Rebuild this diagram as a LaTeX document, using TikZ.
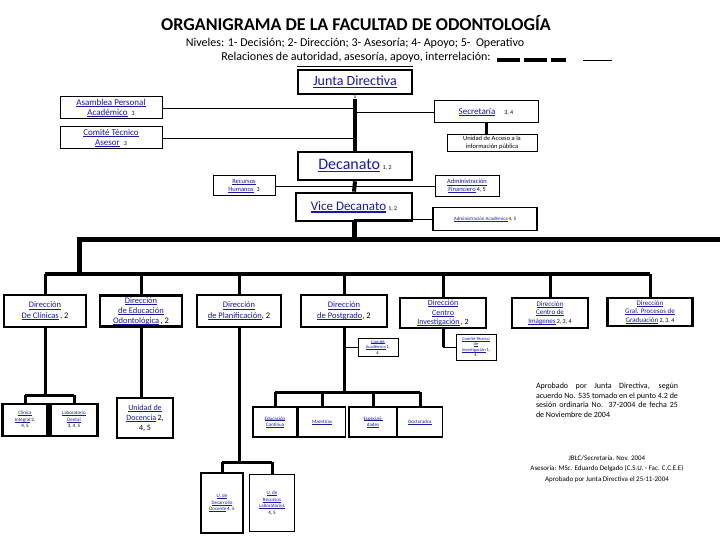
\documentclass[tikz,border=0pt]{standalone}
\usepackage{fontspec}
\setmainfont{Carlito}
\usepackage{tikz}

\definecolor{linkblue}{RGB}{24,24,165}
\newcommand{\lk}[1]{\textcolor{linkblue}{\setbox0\hbox{#1}\rlap{\rule[-0.16em]{\wd0}{0.08em}}\box0}}
\newcommand{\nm}[1]{{\fontsize{6}{7}\selectfont #1}}
\newcommand{\fs}[2]{\fontsize{#1}{#2}\selectfont}

\tikzset{
  box/.style={draw, fill=white, line width=1pt, align=center, inner sep=1pt},
  thickbox/.style={box, line width=2.7pt},
  midbox/.style={box, line width=1.8pt},
  mando/.style={line width=4pt},
  rama/.style={line width=3pt},
  apoyo/.style={line width=0.9pt},
}

\begin{document}
\begin{tikzpicture}[x=1pt,y=-1pt]
\useasboundingbox (0,0) rectangle (720,540);

% encabezado
\node[font=\fs{18}{21}\bfseries] (titulo) at (356,23) {ORGANIGRAMA DE LA FACULTAD DE ODONTOLOGÍA};
\node[font=\fs{12}{14}] (niveles) at (355,43) {Niveles: 1- Decisión; 2- Dirección; 3- Asesoría; 4- Apoyo; 5-\ \ Operativo};
\node[font=\fs{12}{14}] (relaciones) at (356,57) {Relaciones de autoridad, asesoría, apoyo, interrelación:};
\draw[line width=4pt, dash pattern=on 23pt off 4pt] (497,60) -- (566,60);
\draw[apoyo] (583,60) -- (612,60);
\draw[apoyo] (297,66) -- (413,66);

% nivel de decision
\node[thickbox, minimum width=114pt, minimum height=24pt, font=\fs{14}{16}] (junta) at (355,82) {\lk{Junta Directiva}};
\node[box, minimum width=102pt, minimum height=22pt, font=\fs{9}{10.5}] (asamblea) at (111,108) {\lk{Asamblea Personal}\\\lk{Académico}\ \ \nm{3}};
\node[box, minimum width=102pt, minimum height=22pt, font=\fs{9}{10.5}] (comite) at (111,138) {\lk{Comité Técnico}\\\lk{Asesor}\ \ \nm{3}};
\node[box, minimum width=104pt, minimum height=22pt, font=\fs{9}{10.5}] (secretaria) at (486,112) {\lk{Secretaría}\quad\nm{3, 4}};
\node[box, minimum width=90pt, minimum height=17pt, font=\fs{6.5}{7.5}] (acceso) at (492,143) {Unidad de Acceso a la\\información pública};
\node[thickbox, minimum width=114pt, minimum height=28pt, font=\fs{16}{18}] (decanato) at (355,166) {\lk{Decanato}\,\nm{1, 2}};
\node[box, minimum width=62pt, minimum height=20pt, font=\fs{6.5}{7.5}] (rrhh) at (244,186) {\lk{Recursos}\\\lk{Humanos}\ \ \nm{3}};
\node[box, minimum width=64pt, minimum height=21pt, font=\fs{6.5}{7.5}] (finanzas) at (467,186) {\lk{Administración}\\\lk{Financiero}\,\nm{4, 5}};
\node[thickbox, minimum width=116pt, minimum height=28pt, font=\fs{13}{15}] (vice) at (354,207) {\lk{Vice Decanato}\,\nm{1, 2}};
\node[midbox, minimum width=104pt, minimum height=23pt, font=\fs{5}{6}] (academica) at (485,219) {\lk{Administración Académica}\,4, 5};

\draw[mando] (junta.south) -- (decanato.north);
\draw[mando] (decanato.south) -- (vice.north);
\node[font=\fs{6}{7}, fill=white, inner sep=0.3pt] (juntanum) at (355,97) {1};
\draw[apoyo] (asamblea.east) -- (asamblea.east -| junta.south);
\draw[apoyo] (comite.east) -- (comite.east -| junta.south);
\draw[apoyo] (secretaria.west) -- (secretaria.west -| junta.south);
\draw[rama] (secretaria.south) -- (secretaria.south |- acceso.north);
\draw[apoyo] (rrhh.east) -- (rrhh.east -| decanato.south);
\draw[apoyo] (finanzas.west) -- (finanzas.west -| decanato.south);
\draw[apoyo] (academica.west) -- (academica.west -| vice.south);

% direcciones
\node[thickbox, minimum width=82pt, minimum height=32pt, font=\fs{8.5}{10.5}] (clinicas) at (45,311) {\lk{Dirección}\\\lk{De Clínicas}\,, 2};
\node[thickbox, minimum width=82pt, minimum height=31pt, font=\fs{8.5}{10}] (educacion) at (141,311) {\lk{Dirección}\\\lk{de Educación}\\\lk{Odontológica}\,, 2};
\node[thickbox, minimum width=84pt, minimum height=32pt, font=\fs{8.5}{10.5}] (planifica) at (239,311) {\lk{Dirección}\\\lk{de Planificación}, 2};
\node[thickbox, minimum width=86pt, minimum height=32pt, font=\fs{8.5}{10.5}] (postgrado) at (344,311) {\lk{Dirección}\\\lk{de Postgrado}, 2};
\node[thickbox, minimum width=86pt, minimum height=30pt, font=\fs{8}{9.5}] (investiga) at (443,313) {\lk{Dirección}\\\lk{Centro}\\\lk{Investigación}\,, 2};
\node[thickbox, minimum width=76pt, minimum height=30pt, font=\fs{7}{8.5}] (imagenes) at (550,313) {\lk{Dirección}\\\lk{Centro de}\\\lk{Imágenes}\,\nm{2, 3, 4}};
\node[thickbox, minimum width=85pt, minimum height=28pt, font=\fs{7}{8.5}] (graduacion) at (650,312) {\lk{Dirección}\\\lk{Gral. Procesos de}\\\lk{Graduación}\,\nm{2, 3, 4}};

\coordinate (barra) at (vice.south |- 0,239);
\coordinate (barraizq) at (79,239);
\coordinate (barrader) at (720,239);
\coordinate (bajada) at (79,274);
\draw[line width=5pt] (vice.south) -- (barra);
\draw[line width=5pt] (barrader) -- (barraizq) -- (bajada);
\draw[mando] (clinicas.north |- bajada) -- (graduacion.north |- bajada);
\foreach \d in {clinicas,educacion,planifica,postgrado,investiga,imagenes,graduacion}
  \draw[rama] (\d.north |- bajada) -- (\d.north);

% unidades operativas
\node[box, minimum width=40pt, minimum height=18pt, font=\fs{4.5}{5.5}] (comacad) at (378,347) {\lk{Comité}\\\lk{Académico}\,1,\\4.};
\node[box, minimum width=40pt, minimum height=26pt, font=\fs{4.5}{5.5}] (comtec) at (476,347) {\lk{Comité Técnico}\\\lk{de}\\\lk{Investigación}\,1,\\4.};
\node[thickbox, minimum width=45pt, minimum height=32pt, font=\fs{5}{6.5}] (integral) at (25,420) {\lk{Clínica}\\\lk{Integral}\,2,\\4, 5};
\node[thickbox, minimum width=47pt, minimum height=32pt, font=\fs{5}{6.5}] (laboratorio) at (74,420) {\lk{Laboratorio}\\\lk{Dental}\\3, 4, 5};
\node[thickbox, minimum width=56pt, minimum height=40pt, font=\fs{8}{10}] (docencia) at (145,418) {\lk{Unidad de}\\\lk{Docencia}\,2,\\4, 5};
\node[thickbox, minimum width=44pt, minimum height=30pt, font=\fs{5}{6.5}] (continua) at (275,422) {\lk{Educación}\\\lk{Continua}};
\node[midbox, minimum width=47pt, minimum height=30pt, font=\fs{5}{6.5}] (maestrias) at (322,422) {\lk{Maestrías}};
\node[midbox, minimum width=48pt, minimum height=30pt, font=\fs{5}{6.5}] (especial) at (373,422) {\lk{Especiali-}\\\lk{dades}};
\node[midbox, minimum width=45pt, minimum height=30pt, font=\fs{5}{6.5}] (doctorado) at (420,422) {\lk{Doctorados}};
\node[box, line width=1.4pt, minimum width=42pt, minimum height=60pt, font=\fs{5}{6.5}] (desarrollo) at (222,503) {\lk{U. de}\\\lk{Desarrollo}\\\lk{Docente}\,4, 5};
\node[box, line width=1.4pt, minimum width=45pt, minimum height=57pt, font=\fs{5}{6.5}] (recursos) at (272,503) {\lk{U. de}\\\lk{Recursos}\\\lk{Laboratorios}\\4, 5};

\coordinate (clinjunta) at (clinicas.south |- 0,395);
\draw[rama] (clinicas.south) -- (clinjunta);
\draw[rama] (integral.north |- clinjunta) -- (laboratorio.north |- clinjunta);
\draw[rama] (integral.north |- clinjunta) -- (integral.north);
\draw[rama] (laboratorio.north |- clinjunta) -- (laboratorio.north);
\draw[rama] (educacion.south) -- (educacion.south |- docencia.north);
\coordinate (planjunta) at (planifica.south |- 0,462);
\draw[rama] (planifica.south) -- (planjunta);
\draw[rama] (desarrollo.north |- planjunta) -- (recursos.north |- planjunta);
\draw[rama] (desarrollo.north |- planjunta) -- (desarrollo.north);
\draw[rama] (recursos.north |- planjunta) -- (recursos.north);
\coordinate (postjunta) at (postgrado.south |- 0,392);
\draw[rama] (postgrado.south) -- (postjunta);
\draw[apoyo] (comacad.west) -- (comacad.west -| postgrado.south);
\draw[rama] (continua.north |- postjunta) -- (doctorado.north |- postjunta);
\foreach \u in {continua,maestrias,especial,doctorado}
  \draw[rama] (\u.north |- postjunta) -- (\u.north);
\draw[rama] (investiga.south) -- (investiga.south |- comtec.west);
\draw[apoyo] (investiga.south |- comtec.west) -- (comtec.west);

% notas
\node[text width=142pt, align=justify, font=\fs{8}{9.5}] (aprobado) at (607,400) {Aprobado por Junta Directiva, según\linebreak acuerdo No. 535 tomado en el punto 4.2 de\linebreak sesión ordinaria No. 37-2004 de fecha 25\linebreak de Noviembre de 2004};
\node[align=center, font=\fs{7}{10.5}] (firma) at (607,469) {JBLC/Secretaría. Nov. 2004\\Asesoría: MSc. Eduardo Delgado (C.S.U. - Fac. C.C.E.E)\\Aprobado por Junta Directiva el 25-11-2004};
\end{tikzpicture}
\end{document}
